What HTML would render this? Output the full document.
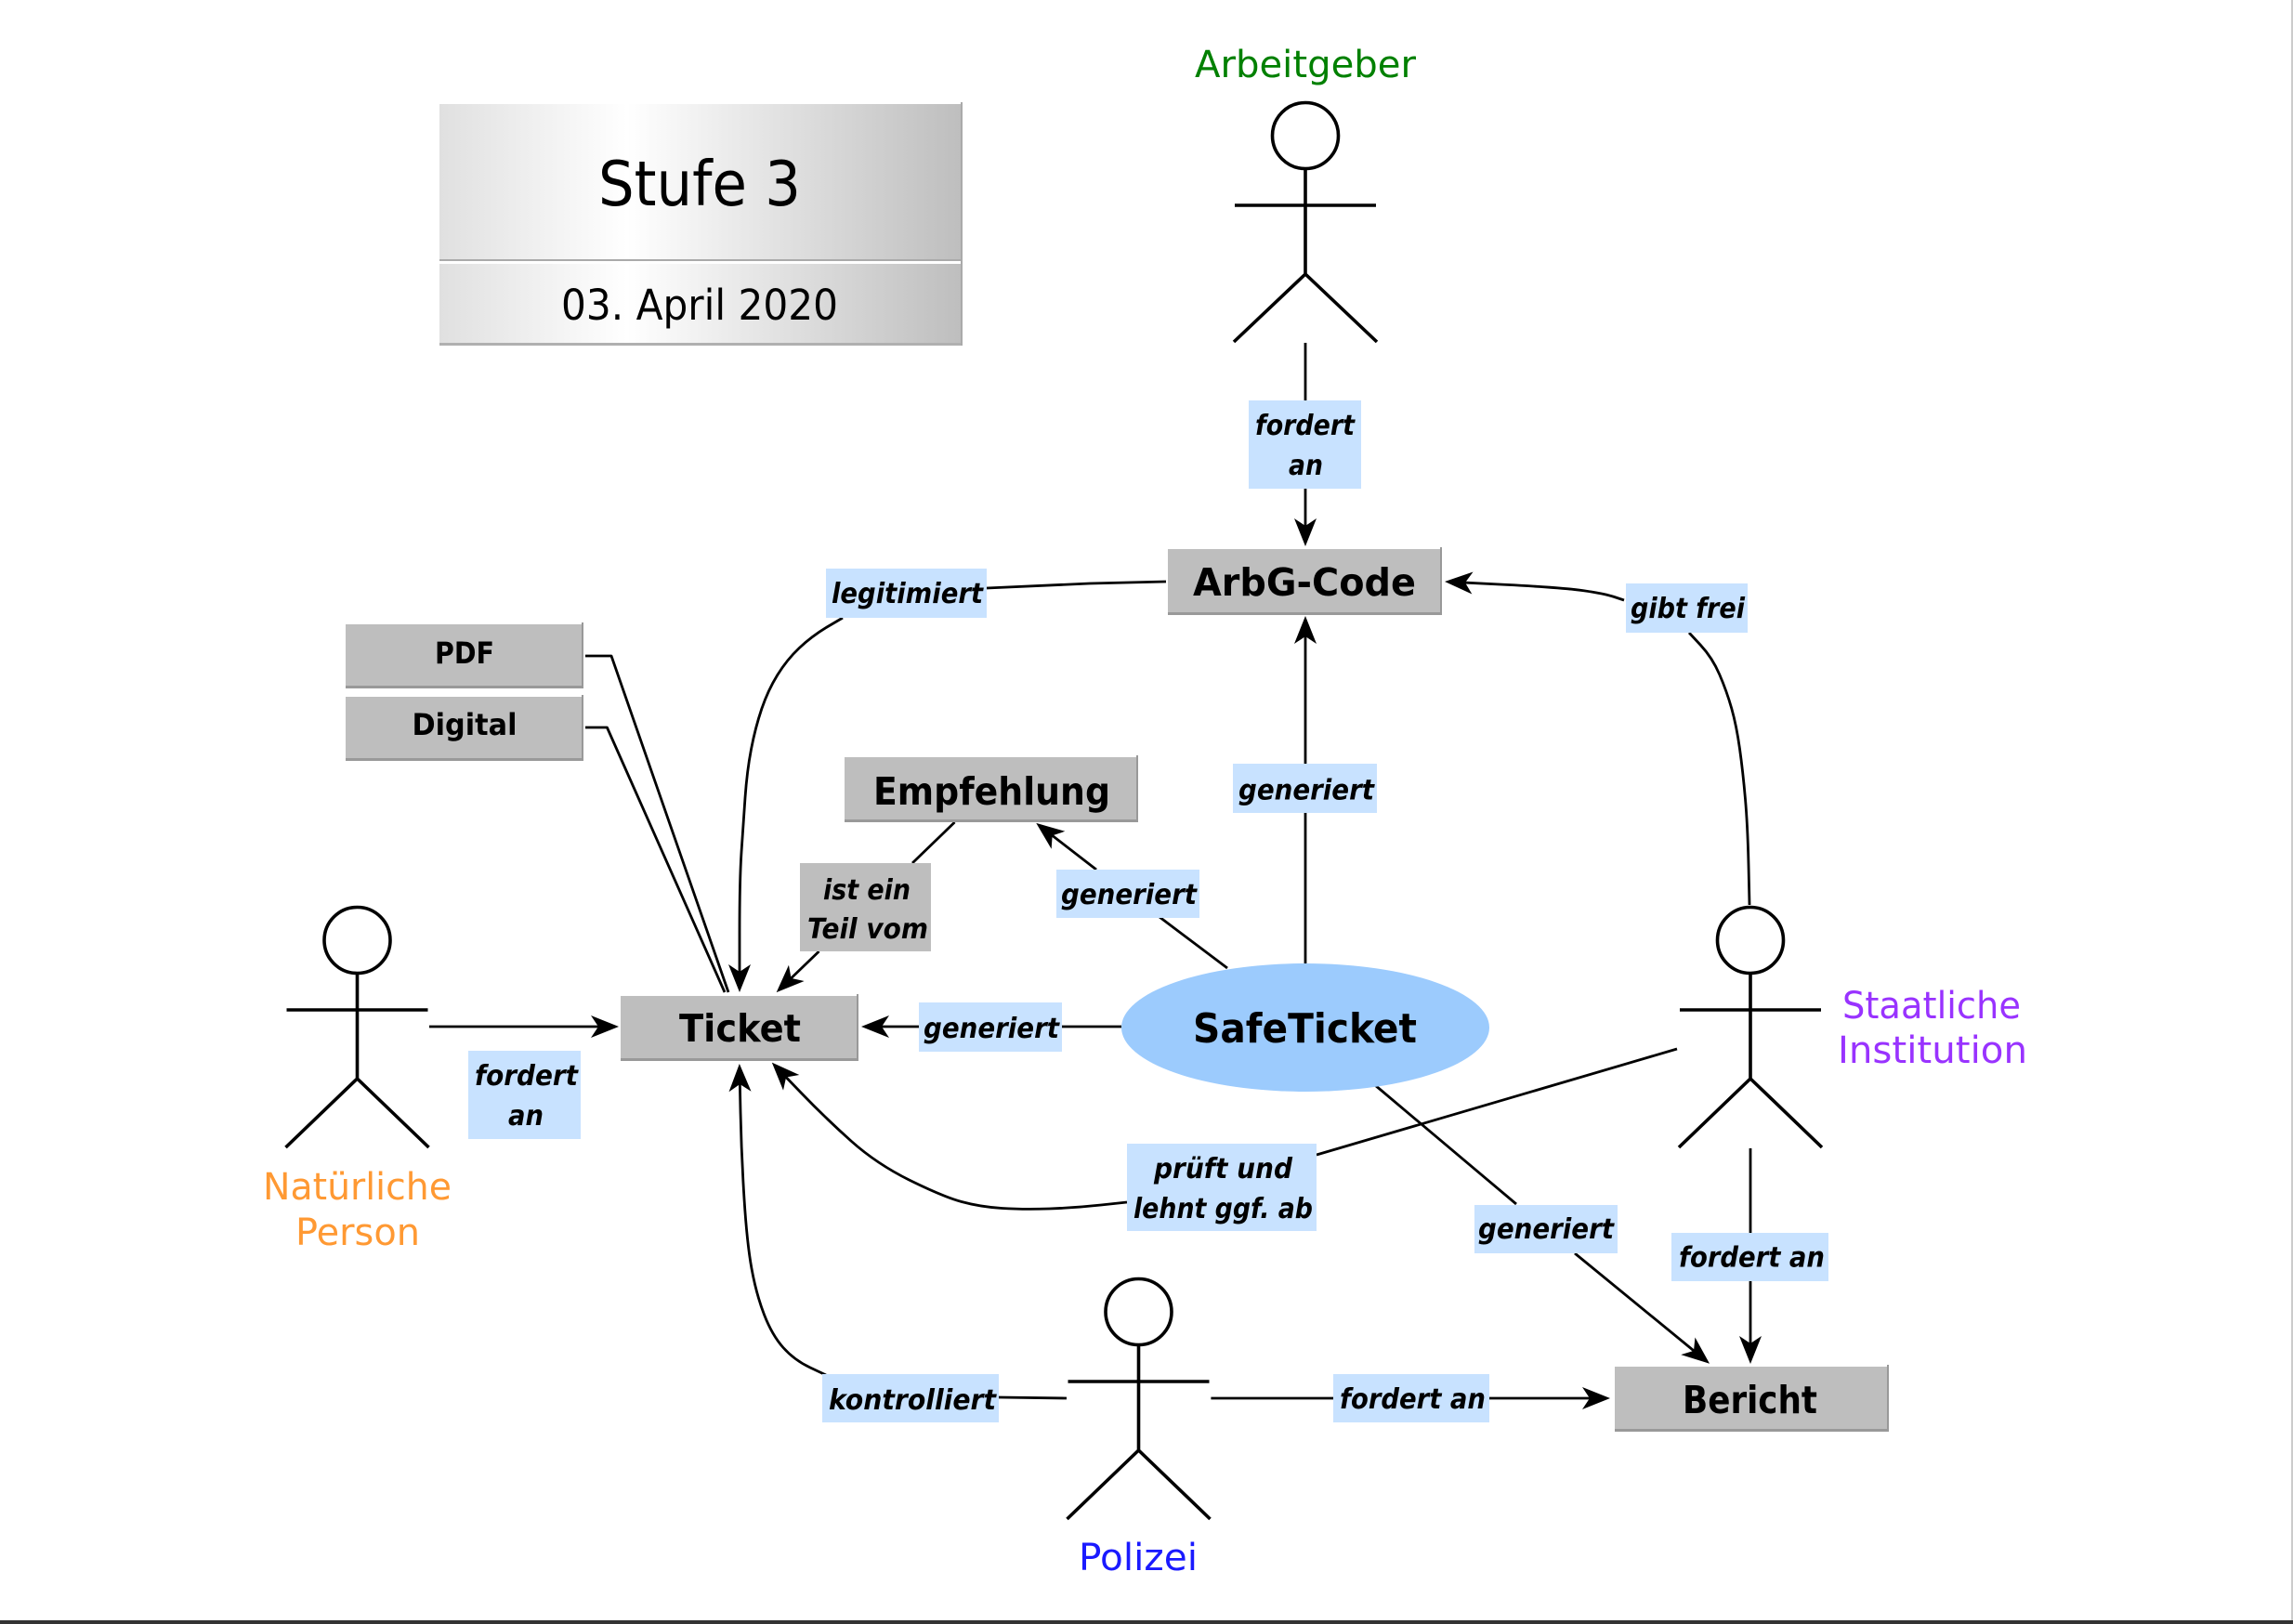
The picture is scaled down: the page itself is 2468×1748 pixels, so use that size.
<!DOCTYPE html>
<html lang="de">
<head>
<meta charset="utf-8">
<title>Stufe 3</title>
<style>
html,body{margin:0;padding:0;background:#fff}
svg{display:block}
text{font-family:"DejaVu Sans","Liberation Sans",sans-serif;fill:#000}
.l{font-size:30px;font-weight:bold;font-style:italic}
.b{font-size:41px;font-weight:bold}
.s{font-size:32px;font-weight:bold}
.a{font-size:40px}
.c{fill:none;stroke:#000;stroke-width:2.8;stroke-linejoin:round}
.f{fill:none;stroke:#000;stroke-width:3.6}
</style>
</head>
<body>
<svg xmlns="http://www.w3.org/2000/svg" width="2468" height="1748" viewBox="0 0 2468 1748">
<defs>
<marker id="ah" markerUnits="userSpaceOnUse" markerWidth="32" markerHeight="28" refX="24" refY="13" orient="auto" overflow="visible">
<polygon points="0,1 8,13 0,25 30,13" fill="#000"/>
</marker>
<linearGradient id="g" x1="0" x2="1" y1="0" y2="0">
<stop offset="0" stop-color="#e0e0e0"/>
<stop offset=".36" stop-color="#ffffff"/>
<stop offset="1" stop-color="#bebebe"/>
</linearGradient>
</defs>
<rect width="2468" height="1748" fill="#fff"/>
<rect x="2466" y="0" width="2" height="1744" fill="#ccc"/>
<rect x="0" y="1744" width="2468" height="4" fill="#333"/>

<!-- title -->
<rect x="473" y="112" width="562" height="168" fill="url(#g)"/>
<rect x="473" y="279" width="562" height="2" fill="#aaa"/>
<rect x="473" y="284" width="562" height="86" fill="url(#g)"/>
<rect x="473" y="369" width="563" height="3" fill="#b0b0b0"/>
<rect x="1034" y="110" width="2" height="262" fill="#aaa"/>
<text x="644" y="221" font-size="67" textLength="218" lengthAdjust="spacingAndGlyphs">Stufe 3</text>
<text x="604" y="344" font-size="45" textLength="298" lengthAdjust="spacingAndGlyphs">03. April 2020</text>

<!-- connectors -->
<path class="c" d="M1405 369V431"/>
<path class="c" d="M1405 526V582" marker-end="url(#ah)"/>
<path class="c" d="M1255 626L1173 628L1062 633"/>
<path class="c" d="M907 665L890 675Q873.5 685 860.25 697.5Q847 710 836.8 726.5Q826.6 743 819.8 763Q813 783 808.5 806.5Q804 830 802 858.5Q800 887 798 917Q796 947 796 1004L796 1062" marker-end="url(#ah)"/>
<path class="c" d="M1883 974L1882 931Q1881 888.6 1878.5 860Q1876 831 1872.5 806Q1869 781 1863.75 762.5Q1858.5 744 1850.75 726Q1843 708 1830.5 694.5L1818 681"/>
<path class="c" d="M1748 646L1737.5 642.5Q1727 639 1704.5 635.75Q1682 632.5 1621.5 629.4L1561 626.3" marker-end="url(#ah)"/>
<path class="c" d="M1405 1037V875"/>
<path class="c" d="M1405 822V669" marker-end="url(#ah)"/>
<path class="c" d="M1027.5 885L982 929"/>
<path class="c" d="M881.5 1024L840 1064" marker-end="url(#ah)"/>
<polyline class="c" points="630,706 658,706 784,1068"/>
<polyline class="c" points="630,783 653.4,783 780,1068"/>
<path class="c" d="M462 1105H660" marker-end="url(#ah)"/>
<path class="c" d="M1207 1105H1143"/>
<path class="c" d="M989 1105H933" marker-end="url(#ah)"/>
<path class="c" d="M1321 1042L1248 987"/>
<path class="c" d="M1180 936L1120 889.6" marker-end="url(#ah)"/>
<path class="c" d="M1480 1168L1632 1296"/>
<path class="c" d="M1695 1349L1835.4 1464" marker-end="url(#ah)"/>
<path class="c" d="M1884 1236V1327"/>
<path class="c" d="M1884 1379V1462" marker-end="url(#ah)"/>
<path class="c" d="M1303.4 1505H1435"/>
<path class="c" d="M1603 1505H1727" marker-end="url(#ah)"/>
<path class="c" d="M1148 1505L1075 1504"/>
<path class="c" d="M889 1480L872 1472Q855 1464 843 1450.5Q831 1437 822.5 1415Q814 1393 809 1365.5Q804 1338 801 1290.5Q798 1243 797 1197L796 1151" marker-end="url(#ah)"/>
<path class="c" d="M1805 1129L1417 1243"/>
<path class="c" d="M1213 1294L1185 1297Q1157 1300 1129.5 1301Q1102 1302 1078.5 1300.5Q1055 1299 1035 1293.5Q1015 1288 979.5 1270.5Q944 1253 916.5 1228.5Q889 1204 862 1176L835 1148" marker-end="url(#ah)"/>

<!-- boxes -->
<g>
<rect x="372" y="672" width="256" height="69" fill="#bebebe"/><rect x="372" y="738" width="256" height="3" fill="#999"/><rect x="626" y="670" width="2" height="71" fill="#999"/>
<rect x="372" y="750" width="256" height="69" fill="#bebebe"/><rect x="372" y="816" width="256" height="3" fill="#999"/><rect x="626" y="748" width="2" height="71" fill="#999"/>
<rect x="668" y="1072" width="256" height="70" fill="#bebebe"/><rect x="668" y="1139" width="256" height="3" fill="#999"/><rect x="922" y="1070" width="2" height="72" fill="#999"/>
<rect x="909" y="815" width="316" height="70" fill="#bebebe"/><rect x="909" y="882" width="316" height="3" fill="#999"/><rect x="1223" y="813" width="2" height="72" fill="#999"/>
<rect x="1257" y="591" width="295" height="71" fill="#bebebe"/><rect x="1257" y="659" width="295" height="3" fill="#999"/><rect x="1550" y="589" width="2" height="73" fill="#999"/>
<rect x="1738" y="1471" width="294" height="70" fill="#bebebe"/><rect x="1738" y="1538" width="295" height="3" fill="#999"/><rect x="2031" y="1469" width="2" height="72" fill="#999"/>
</g>
<text class="s" x="468" y="714" textLength="64" lengthAdjust="spacingAndGlyphs">PDF</text>
<text class="s" x="443.5" y="791" textLength="113" lengthAdjust="spacingAndGlyphs">Digital</text>
<text class="b" x="731" y="1121" textLength="131" lengthAdjust="spacingAndGlyphs">Ticket</text>
<text class="b" x="940" y="866" textLength="255" lengthAdjust="spacingAndGlyphs">Empfehlung</text>
<text class="b" x="1284" y="641" textLength="240" lengthAdjust="spacingAndGlyphs">ArbG-Code</text>
<text class="b" x="1811" y="1521" textLength="145" lengthAdjust="spacingAndGlyphs">Bericht</text>

<!-- ellipse -->
<ellipse cx="1405" cy="1106" rx="198" ry="69" fill="#9ccbfd"/>
<text x="1284" y="1122" font-size="44" font-weight="bold" textLength="241" lengthAdjust="spacingAndGlyphs">SafeTicket</text>

<!-- edge labels -->
<g fill="#c8e2ff">
<rect x="1344" y="431" width="121" height="95"/>
<rect x="889" y="612" width="173" height="53"/>
<rect x="1750" y="628" width="131" height="53"/>
<rect x="1327" y="822" width="155" height="53"/>
<rect x="1137" y="936" width="154" height="52"/>
<rect x="989" y="1079" width="154" height="53"/>
<rect x="1587" y="1297" width="154" height="52"/>
<rect x="504" y="1131" width="121" height="95"/>
<rect x="1213" y="1231" width="204" height="94"/>
<rect x="1799" y="1327" width="169" height="52"/>
<rect x="885" y="1479" width="190" height="52"/>
<rect x="1435" y="1479" width="168" height="52"/>
</g>
<rect x="861" y="929" width="141" height="95" fill="#bebebe"/>

<text class="l" x="1351" y="468" textLength="107" lengthAdjust="spacingAndGlyphs">fordert</text>
<text class="l" x="1387" y="511" textLength="37" lengthAdjust="spacingAndGlyphs">an</text>
<text class="l" x="895" y="649" textLength="163" lengthAdjust="spacingAndGlyphs">legitimiert</text>
<text class="l" x="1755" y="665" textLength="123" lengthAdjust="spacingAndGlyphs">gibt frei</text>
<text class="l" x="1333" y="860.5" textLength="146" lengthAdjust="spacingAndGlyphs">generiert</text>
<text class="l" x="1142" y="973" textLength="146" lengthAdjust="spacingAndGlyphs">generiert</text>
<text class="l" x="994" y="1117" textLength="146" lengthAdjust="spacingAndGlyphs">generiert</text>
<text class="l" x="1591" y="1333" textLength="146" lengthAdjust="spacingAndGlyphs">generiert</text>
<text class="l" x="511" y="1168" textLength="111" lengthAdjust="spacingAndGlyphs">fordert</text>
<text class="l" x="547" y="1211" textLength="38" lengthAdjust="spacingAndGlyphs">an</text>
<text class="l" x="886" y="968" textLength="94" lengthAdjust="spacingAndGlyphs">ist ein</text>
<text class="l" x="869" y="1010" textLength="130" lengthAdjust="spacingAndGlyphs">Teil vom</text>
<text class="l" x="1242" y="1268" textLength="149" lengthAdjust="spacingAndGlyphs">prüft und</text>
<text class="l" x="1220" y="1311" textLength="193" lengthAdjust="spacingAndGlyphs">lehnt ggf. ab</text>
<text class="l" x="1807" y="1363.5" textLength="157" lengthAdjust="spacingAndGlyphs">fordert an</text>
<text class="l" x="892" y="1517" textLength="180" lengthAdjust="spacingAndGlyphs">kontrolliert</text>
<text class="l" x="1442" y="1516" textLength="157" lengthAdjust="spacingAndGlyphs">fordert an</text>

<!-- actors -->
<g class="f" transform="translate(1405 146)"><circle r="35.5"/><path d="M0 36V149M-76 75H76M0 149L-77 222M0 149L77 222"/></g>
<g class="f" transform="translate(384.5 1012)"><circle r="35.5"/><path d="M0 36V149M-76 75H76M0 149L-77 223M0 149L77 223"/></g>
<g class="f" transform="translate(1884 1012)"><circle r="35.5"/><path d="M0 36V149M-76 75H76M0 149L-77 223M0 149L77 223"/></g>
<g class="f" transform="translate(1225.5 1412)"><circle r="35.5"/><path d="M0 36V149M-76 75H76M0 149L-77 223M0 149L77 223"/></g>

<text class="a" x="1286" y="83" textLength="238" lengthAdjust="spacingAndGlyphs" style="fill:#008000">Arbeitgeber</text>
<text class="a" x="283" y="1291" textLength="203" lengthAdjust="spacingAndGlyphs" style="fill:#ff9933">Natürliche</text>
<text class="a" x="318" y="1340" textLength="134" lengthAdjust="spacingAndGlyphs" style="fill:#ff9933">Person</text>
<text class="a" x="1161" y="1690" textLength="128" lengthAdjust="spacingAndGlyphs" style="fill:#1a1aff">Polizei</text>
<text class="a" x="1983" y="1096" textLength="192" lengthAdjust="spacingAndGlyphs" style="fill:#9933ff">Staatliche</text>
<text class="a" x="1978" y="1144" textLength="204" lengthAdjust="spacingAndGlyphs" style="fill:#9933ff">Institution</text>
</svg>
</body>
</html>
